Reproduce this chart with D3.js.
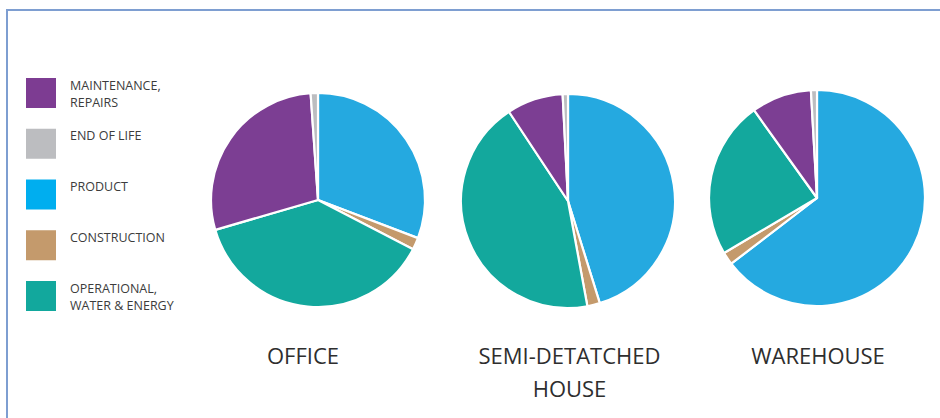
<!DOCTYPE html>
<html>
<head>
<meta charset="utf-8">
<script src="https://cdn.jsdelivr.net/npm/d3@7"></script>
<style>
  html, body { margin: 0; padding: 0; background: #fff; }
  svg { display: block; }
  text { font-family: "Open Sans", "DejaVu Sans", sans-serif; }
</style>
</head>
<body>
<svg id="chart" width="940" height="418"></svg>
<script>
// Legend categories (top to bottom)
const legendKeys = ["maintenance", "eol", "product", "construction", "operational"];
const legendLabels = [["MAINTENANCE,", "REPAIRS"], ["END OF LIFE"], ["PRODUCT"], ["CONSTRUCTION"], ["OPERATIONAL,", "WATER & ENERGY"]];

// Pie slice order (clockwise from 12 o'clock)
const sliceKeys = ["product", "construction", "operational", "maintenance", "eol"];

// Buildings
const buildings = [["OFFICE"], ["SEMI-DETATCHED", "HOUSE"], ["WAREHOUSE"]];

// Percent shares per building, in sliceKeys order
const officeValues    = [30.8, 1.8, 37.9, 28.4, 1.1];
const semiValues      = [45.2, 1.9, 43.6, 8.5, 0.8];
const warehouseValues = [64.6, 1.9, 23.6, 9.0, 0.9];
const seriesValues = [officeValues, semiValues, warehouseValues];

const pieColors = {
  maintenance: "#7c3e93",
  eol: "#bcbdc0",
  product: "#25a9e0",
  construction: "#c49a6c",
  operational: "#13a89d"
};
const legendColors = {
  maintenance: "#7d3c92",
  eol: "#bcbdc0",
  product: "#00aeef",
  construction: "#c49a6c",
  operational: "#12a89d"
};

const svg = d3.select("#chart");

// Frame
svg.append("rect")
  .attr("x", 7).attr("y", 10)
  .attr("width", 960).attr("height", 440)
  .attr("fill", "none")
  .attr("stroke", "#7e9ed1")
  .attr("stroke-width", 2);

// Legend
const legendY = d3.scalePoint().domain(legendKeys).range([78, 281]);
const lg = svg.append("g");
legendKeys.forEach((k, i) => {
  const y = legendY(k);
  lg.append("rect").attr("x", 26).attr("y", y).attr("width", 30).attr("height", 30)
    .attr("fill", legendColors[k]);
  const t = lg.append("text").attr("x", 70).attr("y", y + 11.5)
    .attr("font-size", 12.5).attr("fill", "#3c3c3c");
  legendLabels[i].forEach((line, j) => {
    t.append("tspan").attr("x", 70).attr("dy", j === 0 ? 0 : 17.2).text(line);
  });
});

// Pies
const centersX = d3.scaleOrdinal().domain([0, 1, 2]).range([318, 568, 817]);
const centersY = [200, 201, 198];
const radii = [107, 107, 108];
const labelX = [303, 569.5, 818];

const pie = d3.pie().sort(null).value(d => d.v);

seriesValues.forEach((vals, bi) => {
  const data = sliceKeys.map((k, i) => ({ k, v: vals[i] }));
  const arc = d3.arc().innerRadius(0).outerRadius(radii[bi]);
  const g = svg.append("g")
    .attr("transform", `translate(${centersX(bi)},${centersY[bi]})`);
  g.selectAll("path").data(pie(data)).join("path")
    .attr("d", arc)
    .attr("fill", d => pieColors[d.data.k])
    .attr("stroke", "#fff")
    .attr("stroke-width", 2.2)
    .attr("stroke-linejoin", "round");

  const t = svg.append("text")
    .attr("x", labelX[bi]).attr("y", 364)
    .attr("text-anchor", "middle")
    .attr("font-size", 22).attr("fill", "#2e2e2e");
  buildings[bi].forEach((line, j) => {
    t.append("tspan").attr("x", labelX[bi]).attr("dy", j === 0 ? 0 : 33.3).text(line);
  });
});
</script>
</body>
</html>
